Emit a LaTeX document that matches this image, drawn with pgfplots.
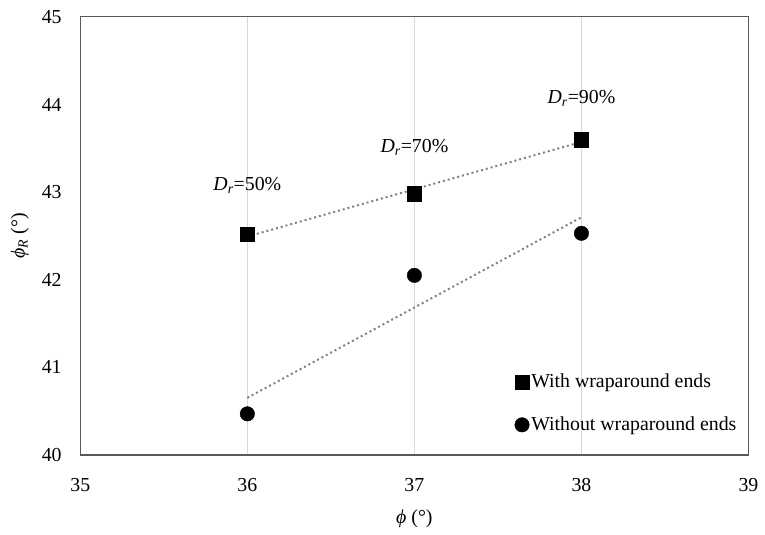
\documentclass[border=0pt]{standalone}
\usepackage{fontspec}
\setmainfont{Liberation Serif}
\usepackage{pgfplots}
\pgfplotsset{compat=1.18}
\begin{document}
\begin{tikzpicture}
\fontsize{20pt}{24pt}\selectfont
\begin{axis}[
  scale only axis, width=674pt, height=442pt,
  xmin=35, xmax=39, ymin=40, ymax=45,
  xtick={35,36,37,38,39}, ytick={40,41,42,43,44,45},
  /pgf/number format/assume math mode=true,
  tick label style={font=\fontsize{20pt}{24pt}\selectfont},
  xticklabel style={yshift=-17pt},
  yticklabel style={xshift=-12pt},
  major tick length=0pt,
  axis line style={draw=black!65, line width=1.2pt},
  xmajorgrids, grid style={draw=black!15, line width=0.8pt},
  xlabel={\textit{ϕ} (°)}, ylabel={\textit{ϕ}\textsubscript{\textit{R}} (°)},
  label style={font=\fontsize{20pt}{24pt}\selectfont},
  xlabel style={at={(0.5,0)}, anchor=center, yshift=-64pt},
  ylabel style={at={(0,0.5)}, anchor=center, rotate=0, yshift=61pt},
  legend style={at={(0.65,0.19)}, anchor=north west, draw=none, fill=none,
    font=\fontsize{20pt}{24pt}\selectfont, row sep=22pt, inner sep=0pt,
    legend cell align=left},
  legend image code/.code={\draw[#1] plot coordinates {(4pt,0pt)};},
]
\addplot[forget plot, draw=black!50, line width=2pt, dash pattern=on 2pt off 3pt] coordinates {(36,42.493) (38,43.573)};
\addplot[forget plot, draw=black!50, line width=2pt, dash pattern=on 2pt off 3pt] coordinates {(36,40.653) (38,42.713)};
\addplot[only marks, mark=square*, mark size=7.3pt, mark options={fill=black, draw=black}] coordinates {(36,42.52) (37,42.98) (38,43.6)};
\addlegendentry{With wraparound ends}
\addplot[only marks, mark=*, mark size=7.3pt, mark options={fill=black, draw=black}] coordinates {(36,40.47) (37,42.05) (38,42.53)};
\addlegendentry{Without wraparound ends}
\node at (axis cs:36,43.08) {\textit{D}\textsubscript{\textit{r}}=50\%};
\node at (axis cs:37,43.51) {\textit{D}\textsubscript{\textit{r}}=70\%};
\node at (axis cs:38,44.07) {\textit{D}\textsubscript{\textit{r}}=90\%};
\end{axis}
\path[use as bounding box] (-81pt,-72pt) rectangle (684pt,459pt);
\end{tikzpicture}
\end{document}
